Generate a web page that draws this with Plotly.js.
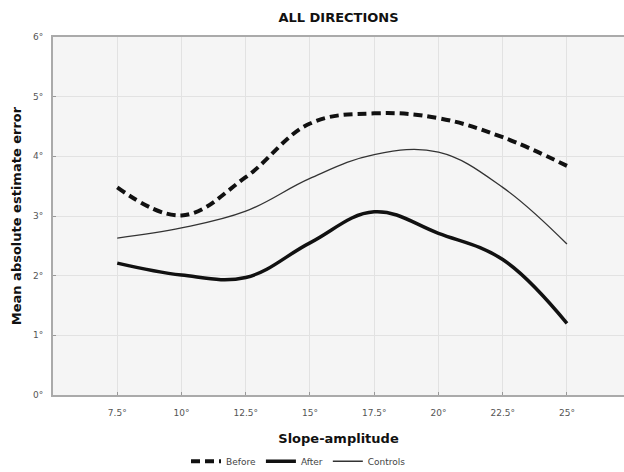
<!DOCTYPE html>
<html>
<head>
<meta charset="utf-8">
<script src="https://cdn.plot.ly/plotly-3.0.1.min.js"></script>
<style>html,body{margin:0;padding:0;background:#fff;}#chart{width:624px;height:472px;}</style>
</head>
<body>
<div id="chart"></div>
<script>
const slopeAmplitude = [7.5, 10, 12.5, 15, 17.5, 20, 22.5, 25];
const before = [3.48, 3.01, 3.65, 4.55, 4.72, 4.64, 4.32, 3.84];
const after = [2.21, 2.01, 1.97, 2.55, 3.07, 2.71, 2.27, 1.20];
const controls = [2.63, 2.80, 3.08, 3.63, 4.03, 4.07, 3.48, 2.53];
const xTickVals = [7.5, 10, 12.5, 15, 17.5, 20, 22.5, 25];
const xTickText = ['7.5°', '10°', '12.5°', '15°', '17.5°', '20°', '22.5°', '25°'];
const yTickVals = [0, 1, 2, 3, 4, 5, 6];
const yTickText = ['0°', '1°', '2°', '3°', '4°', '5°', '6°'];

const traces = [
  {x: slopeAmplitude, y: before, name: 'Before', mode: 'lines',
   line: {color: '#111', width: 4, dash: '9px,5px', shape: 'spline', smoothing: 1.1}},
  {x: slopeAmplitude, y: after, name: 'After', mode: 'lines',
   line: {color: '#111', width: 3.5, shape: 'spline', smoothing: 1.1}},
  {x: slopeAmplitude, y: controls, name: 'Controls', mode: 'lines',
   line: {color: '#333', width: 1.3, shape: 'spline', smoothing: 1.1}}
];

const layout = {
  width: 624, height: 472,
  margin: {l: 53, r: 0, t: 37, b: 77, autoexpand: false},
  paper_bgcolor: '#ffffff',
  plot_bgcolor: '#f5f5f5',
  font: {family: 'DejaVu Sans, Verdana, sans-serif', color: '#222'},
  title: {text: '<b>ALL DIRECTIONS</b>', x: 0.5, xanchor: 'center', y: 0.962, yanchor: 'middle',
          xref: 'paper', font: {size: 13, color: '#111'}},
  xaxis: {
    range: [5, 27.22], tickvals: xTickVals, ticktext: xTickText, automargin: false,
    showgrid: true, gridcolor: '#e2e2e2', gridwidth: 1, zeroline: false,
    showline: true, linecolor: '#aaaaaa', linewidth: 2, mirror: true,
    ticks: 'inside', ticklen: 3, tickcolor: '#999', ticklabelstandoff: 8,
    tickfont: {size: 9, color: '#555'},
    title: {text: '<b>Slope-amplitude</b>', font: {size: 13, color: '#111'}, standoff: 17}
  },
  yaxis: {
    range: [0, 6], tickvals: yTickVals, ticktext: yTickText, automargin: false,
    showgrid: true, gridcolor: '#e2e2e2', gridwidth: 1, zeroline: false,
    showline: true, linecolor: '#aaaaaa', linewidth: 2,
    ticks: 'inside', ticklen: 3, tickcolor: '#999', ticklabelstandoff: 6,
    tickfont: {size: 9, color: '#555'},
    title: {text: '<b>Mean absolute estimate error</b>', font: {size: 13, color: '#111'}, standoff: 8}
  },
  showlegend: true,
  legend: {orientation: 'h', x: 0.43, xanchor: 'center', y: -0.185, yanchor: 'middle',
           font: {size: 9, color: '#444'}, bgcolor: 'rgba(0,0,0,0)', itemwidth: 30,
           tracegroupgap: 0}
};

Plotly.newPlot('chart', traces, layout, {displayModeBar: false, staticPlot: true});
</script>
</body>
</html>
